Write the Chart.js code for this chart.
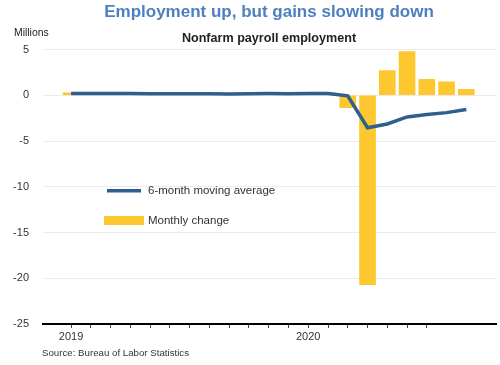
<!DOCTYPE html>
<html lang="en">
<head>
    <meta charset="UTF-8">
    <title>Employment up, but gains slowing down</title>
    <script src="https://cdn.jsdelivr.net/npm/chart.js"></script>
    <style>
        html, body { margin: 0; padding: 0; background: #fff; }
        #wrap { position: relative; width: 500px; height: 365px; }
    </style>
</head>
<body>
    <div id="wrap">
        <canvas id="payrollChart" width="500" height="365"></canvas>
    </div>

    <script>
        // Data: months Jan 2019 .. Sep 2020 (millions)
        const months = ['Jan 2019', 'Feb 2019', 'Mar 2019', 'Apr 2019', 'May 2019', 'Jun 2019',
            'Jul 2019', 'Aug 2019', 'Sep 2019', 'Oct 2019', 'Nov 2019', 'Dec 2019',
            'Jan 2020', 'Feb 2020', 'Mar 2020', 'Apr 2020', 'May 2020', 'Jun 2020',
            'Jul 2020', 'Aug 2020', 'Sep 2020'];
        const monthlyChange = [0.27, 0.05, 0.19, 0.22, 0.08, 0.18, 0.16, 0.13, 0.18, 0.13, 0.26, 0.15,
            0.21, 0.27, -1.37, -20.7, 2.7, 4.78, 1.75, 1.47, 0.66];
        const movingAverage = [0.20, 0.19, 0.19, 0.19, 0.17, 0.16, 0.17, 0.16, 0.15, 0.16, 0.18, 0.17,
            0.19, 0.20, -0.06, -3.55, -3.14, -2.37, -2.11, -1.90, -1.55];
        // x-axis tick marks (one per month, Jan 2019 .. Jul 2020) and labels
        const xTickLabels = ['2019', '', '', '', '', '', '', '', '', '', '', '',
            '2020', '', '', '', '', '', ''];
        const yTicks = [5, 0, -5, -10, -15, -20, -25];

        const FONT = 'Arial, "Liberation Sans", sans-serif';
        const BLUE = '#2f5f8f';
        const YELLOW = '#fdc72f';

        // titles, unit label, legend and source drawn on the canvas
        const textPlugin = {
            id: 'texts',
            afterDraw(chart) {
                const ctx = chart.ctx;
                ctx.save();
                ctx.textBaseline = 'middle';

                ctx.textAlign = 'center';
                ctx.fillStyle = '#4d80c0';
                ctx.font = 'bold 17px ' + FONT;
                ctx.fillText('Employment up, but gains slowing down', 269, 12);

                ctx.fillStyle = '#222';
                ctx.font = 'bold 12.6px ' + FONT;
                ctx.fillText('Nonfarm payroll employment', 269, 39);

                ctx.textAlign = 'left';
                ctx.fillStyle = '#222';
                ctx.font = '10.4px ' + FONT;
                ctx.fillText('Millions', 14, 33);

                ctx.fillStyle = '#333';
                ctx.font = '9.7px ' + FONT;
                ctx.fillText('Source: Bureau of Labor Statistics', 42, 353);

                // legend
                ctx.fillStyle = BLUE;
                ctx.fillRect(107, 189, 34, 3.5);
                ctx.fillStyle = YELLOW;
                ctx.fillRect(104, 216, 40, 9);
                ctx.fillStyle = '#333';
                ctx.font = '11.5px ' + FONT;
                ctx.fillText('6-month moving average', 148, 191);
                ctx.fillText('Monthly change', 148, 221);
                ctx.restore();
            }
        };

        const ctx = document.getElementById('payrollChart').getContext('2d');

        new Chart(ctx, {
            type: 'bar',
            data: {
                datasets: [
                    {
                        type: 'line',
                        label: '6-month moving average',
                        data: movingAverage.map((v, i) => ({ x: i, y: v })),
                        borderColor: BLUE,
                        borderWidth: 3.5,
                        pointRadius: 0,
                        tension: 0,
                        order: 0
                    },
                    {
                        type: 'bar',
                        label: 'Monthly change',
                        data: monthlyChange.map((v, i) => ({ x: i, y: v })),
                        backgroundColor: YELLOW,
                        barThickness: 16,
                        order: 1
                    }
                ]
            },
            options: {
                responsive: false,
                animation: false,
                layout: { padding: { top: 49.5, right: 4, left: 0, bottom: 0 } },
                plugins: {
                    legend: { display: false },
                    title: { display: false },
                    tooltip: { enabled: false }
                },
                scales: {
                    x: {
                        type: 'linear',
                        offset: false,
                        min: -1.42,
                        max: 21.5,
                        afterBuildTicks: s => { s.ticks = xTickLabels.map((_, i) => ({ value: i })); },
                        afterFit: s => { s.height = 41; },
                        ticks: {
                            autoSkip: false,
                            maxRotation: 0,
                            padding: 2,
                            color: '#333',
                            font: { family: FONT, size: 11 },
                            callback: v => xTickLabels[v]
                        },
                        grid: {
                            offset: false,
                            drawOnChartArea: false,
                            drawTicks: true,
                            tickLength: 4,
                            color: '#444'
                        },
                        border: { display: true, color: '#000', width: 2 }
                    },
                    y: {
                        min: -25,
                        max: 5,
                        afterBuildTicks: s => { s.ticks = yTicks.map(v => ({ value: v })); },
                        afterFit: s => { s.width = 43; },
                        ticks: {
                            padding: 14,
                            color: '#333',
                            font: { family: FONT, size: 11 }
                        },
                        grid: { color: '#ebebeb', lineWidth: 1, drawTicks: false },
                        border: { display: false }
                    }
                }
            },
            plugins: [textPlugin]
        });
    </script>
</body>
</html>
